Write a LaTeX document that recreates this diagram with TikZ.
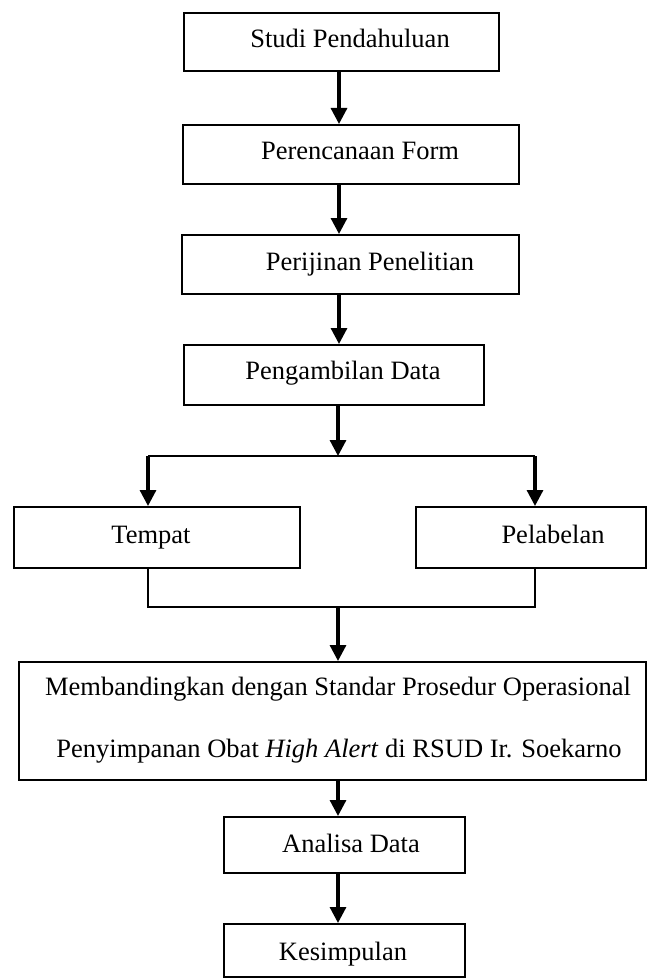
\documentclass[tikz,border=0pt]{standalone}
\usepackage{fontspec}
\setmainfont{Liberation Serif}
\usetikzlibrary{arrows.meta}
\begin{document}
\begin{tikzpicture}[x=1pt,y=-1pt,
  box/.style={draw=black,line width=2pt,inner sep=0pt,fill=none},
  lbl/.style={anchor=base,inner sep=0pt,font=\fontsize{26.5}{30}\selectfont},
  arr/.style={line width=3.2pt,-{Triangle[length=16pt,width=16pt]}},
  ln/.style={line width=2pt}]
\useasboundingbox[fill=white] (0,0) rectangle (647,979);
% boxes
\node[box,minimum width=315pt,minimum height=58pt] (b1) at (341.5,42) {};
\node[box,minimum width=336pt,minimum height=59pt] (b2) at (351,154.5) {};
\node[box,minimum width=337pt,minimum height=59pt] (b3) at (350.5,264.5) {};
\node[box,minimum width=300pt,minimum height=60pt] (b4) at (334,375) {};
\node[box,minimum width=286pt,minimum height=61pt] (b5) at (157,537.5) {};
\node[box,minimum width=230pt,minimum height=61pt] (b6) at (531,537.5) {};
\node[box,minimum width=627pt,minimum height=118pt] (b7) at (332.5,721) {};
\node[box,minimum width=241pt,minimum height=56pt] (b8) at (344.5,845) {};
\node[box,minimum width=241pt,minimum height=53pt] (b9) at (344.5,950.5) {};
% texts
\node[lbl] (t1) at (350,48) {Studi Pendahuluan};
\node[lbl] (t2) at (360,159) {Perencanaan Form};
\node[lbl] (t3) at (370,270) {Perijinan Penelitian};
\node[lbl] (t4) at (343,379) {Pengambilan Data};
\node[lbl] (t5) at (151,543) {Tempat};
\node[lbl] (t6) at (553,543) {Pelabelan};
\node[lbl] (t7a) at (338,695) {Membandingkan dengan Standar Prosedur Operasional};
\node[lbl] (t7b) at (339,757) {Penyimpanan Obat \textit{High Alert} di RSUD Ir. Soekarno};
\node[lbl] (t8) at (351,852) {Analisa Data};
\node[lbl] (t9) at (343,960) {Kesimpulan};
% coordinates
\coordinate (ax) at (339,0);
\coordinate (sp) at (338,456);
\coordinate (sl) at (148,456);
\coordinate (sr) at (535,456);
\coordinate (ml) at (148,607);
\coordinate (mr) at (535,607);
\coordinate (mm) at (338,607);
% connectors
\draw[arr] (b1.south -| ax) -- (b2.north -| ax);
\draw[arr] (b2.south -| ax) -- (b3.north -| ax);
\draw[arr] (b3.south -| ax) -- (b4.north -| ax);
\draw[arr] (b4.south -| sp) -- (sp);
\draw[ln,line width=2.4pt] (sl) -- (sr);
\draw[arr] (sl) -- (b5.north -| sl);
\draw[arr] (sr) -- (b6.north -| sr);
\draw[ln] (b5.south -| ml) -- (ml) -- (mr) -- (b6.south -| mr);
\draw[arr] (mm) -- (b7.north -| mm);
\draw[arr] (b7.south -| mm) -- (b8.north -| mm);
\draw[arr] (b8.south -| mm) -- (b9.north -| mm);
\end{tikzpicture}
\end{document}
